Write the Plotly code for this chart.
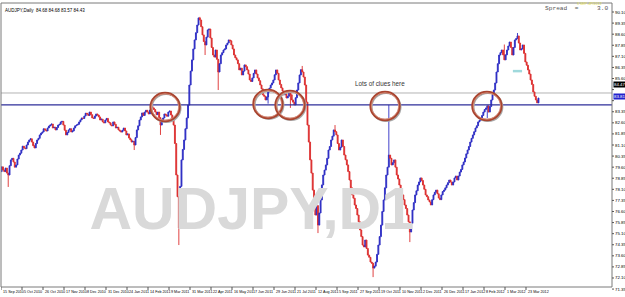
import plotly.graph_objects as go

# ---------------- data (daily closes) ----------------
closes = [
    79.62, 79.41, 79.30, 79.54, 79.20, 79.07, 79.70, 80.09, 80.20, 79.95, 79.60, 79.75, 80.15, 80.42, 80.55, 80.76,
    81.02, 80.90, 80.85, 81.10, 81.30, 81.44, 81.52, 81.30, 81.05, 80.90, 81.20, 81.44, 81.55, 81.78, 81.90, 81.98,
    82.20, 82.12, 82.05, 82.25, 82.38, 82.45, 82.52, 82.25, 82.30, 82.12, 82.28, 82.45, 82.50, 82.66, 82.70, 82.45,
    82.10, 81.78, 81.95, 82.12, 82.20, 81.98, 82.05, 82.25, 82.40, 82.45, 82.50, 82.66, 82.80, 82.93, 82.90, 83.06,
    83.25, 83.20, 83.10, 83.33, 83.15, 82.93, 82.90, 83.06, 83.20, 83.13, 83.00, 82.79, 82.85, 82.66, 82.60, 82.79,
    82.90, 82.66, 82.60, 82.45, 82.40, 82.66, 82.50, 82.25, 82.30, 82.12, 82.05, 81.98, 82.10, 82.25, 82.05, 81.78,
    81.85, 81.57, 81.45, 81.30, 81.35, 81.10, 81.60, 82.12, 82.40, 82.79, 83.00, 83.27, 83.10, 83.33, 83.45, 83.33,
    83.20, 83.47, 83.70, 83.61, 83.50, 83.33, 83.15, 83.33, 82.95, 82.45, 82.70, 82.93, 83.20, 83.13, 83.05, 83.33,
    83.40, 83.13, 82.90, 82.45, 81.20, 79.07, 77.60, 75.48, 78.30, 80.09, 80.80, 81.44, 82.20, 82.93, 83.80, 85.16,
    86.10, 86.86, 87.60, 88.21, 88.70, 89.22, 89.70, 89.56, 89.10, 88.55, 88.10, 87.87, 88.40, 88.89, 88.95, 88.34,
    87.70, 87.19, 87.05, 87.53, 86.90, 86.04, 86.60, 87.19, 87.35, 87.53, 87.60, 87.87, 88.00, 88.21, 88.15, 87.87,
    87.60, 87.19, 87.00, 86.86, 86.60, 86.18, 86.30, 85.84, 86.10, 86.52, 86.40, 86.18, 85.90, 85.50, 85.40, 85.64,
    85.95, 86.18, 85.90, 85.64, 85.45, 85.16, 84.90, 84.49, 84.40, 84.15, 84.35, 84.69, 84.95, 85.16, 85.30, 85.50,
    85.85, 86.18, 85.95, 85.50, 85.20, 84.96, 84.75, 84.49, 84.55, 84.28, 84.40, 84.69, 84.50, 84.15, 84.00, 83.81,
    84.30, 84.82, 85.30, 85.84, 86.20, 86.04, 85.70, 85.16, 84.00, 82.45, 81.30, 80.09, 79.20, 78.05, 77.30, 76.36,
    77.00, 75.68, 76.50, 77.38, 78.40, 79.07, 79.40, 79.75, 80.20, 80.76, 81.00, 81.44, 81.70, 82.12, 82.00, 81.78,
    81.20, 80.76, 80.95, 81.44, 81.00, 80.42, 80.10, 79.75, 79.30, 78.73, 78.20, 77.72, 77.50, 77.04, 76.80, 76.36,
    75.90, 75.35, 74.90, 74.33, 74.20, 74.67, 74.10, 73.65, 73.50, 73.18, 73.10, 72.77, 72.90, 73.18, 73.70, 74.33,
    74.90, 75.68, 76.60, 77.38, 78.20, 79.07, 79.60, 80.42, 80.20, 79.75, 79.90, 80.09, 79.60, 79.07, 78.80, 78.39,
    78.00, 77.72, 77.40, 77.04, 76.80, 76.36, 75.90, 75.21, 75.80, 76.70, 77.20, 77.72, 78.00, 78.39, 78.60, 78.87,
    78.70, 78.39, 78.10, 77.72, 77.60, 77.38, 77.25, 77.04, 77.40, 77.72, 77.90, 78.05, 77.80, 77.51, 77.40, 77.72,
    77.95, 78.05, 78.20, 78.39, 78.55, 78.73, 78.60, 78.39, 78.60, 78.87, 79.00, 78.73, 79.00, 79.27, 79.45, 79.75,
    79.95, 80.22, 80.50, 80.76, 81.00, 81.30, 81.55, 81.78, 82.00, 82.25, 82.40, 82.66, 82.75, 82.93, 83.10, 83.33,
    83.50, 83.61, 83.75, 83.33, 83.70, 84.15, 84.50, 84.82, 85.30, 86.04, 86.60, 87.19, 87.35, 87.53, 87.20, 86.86,
    87.20, 87.53, 87.80, 88.07, 87.70, 87.19, 87.70, 88.21, 88.30, 88.48, 88.00, 87.53, 87.60, 87.87, 87.30, 86.72,
    86.50, 86.18, 85.90, 85.50, 85.20, 84.69, 84.40, 84.15, 83.95, 84.28,
]
first_open = 79.30
spike_low_idx = [5, 101, 121, 135, 155, 165, 203, 220, 241, 283, 311, 370]
spike_low_val = [78.26, 80.76, 81.78, 74.33, 87.19, 84.82, 83.90, 83.61, 75.14, 72.16, 74.53, 82.93]
spike_high_idx = [151, 229, 254, 295, 383, 393]
spike_high_val = [89.77, 86.45, 82.45, 83.81, 87.90, 88.68]

date_labels = ["15 Sep 2010", "5 Oct 2010", "26 Oct 2010", "17 Nov 2010", "8 Dec 2010",
               "31 Dec 2010", "24 Jan 2011", "14 Feb 2011", "9 Mar 2011", "31 Mar 2011",
               "22 Apr 2011", "16 May 2011", "7 Jun 2011", "29 Jun 2011", "21 Jul 2011",
               "12 Aug 2011", "5 Sep 2011", "27 Sep 2011", "19 Oct 2011", "10 Nov 2011",
               "2 Dec 2011", "26 Dec 2011", "17 Jan 2012", "8 Feb 2012", "1 Mar 2012",
               "23 Mar 2012"]
price_ticks = ["71.35", "72.10", "72.85", "73.60", "74.35", "75.10", "75.85", "76.60",
               "77.35", "78.10", "78.85", "79.60", "80.35", "81.10", "81.85", "82.60",
               "83.35", "84.10", "84.85", "85.60", "86.35", "87.10", "87.85", "88.60",
               "89.35", "90.10"]
ask_level = 84.62
bid_level = 83.81
ask_label = "84.47"
bid_label = "83.81"
title_text = "AUDJPY,Daily  84.68 84.68 83.57 84.43"
timer_text = "3 SEP-4P/2012"

# ---------------- derived OHLC ----------------
opens = [first_open] + closes[:-1]
highs = [max(o, c) for o, c in zip(opens, closes)]
lows = [min(o, c) for o, c in zip(opens, closes)]
for i, v in zip(spike_low_idx, spike_low_val):
    lows[i] = min(lows[i], v)
for i, v in zip(spike_high_idx, spike_high_val):
    highs[i] = max(highs[i], v)
xs = list(range(len(closes)))

# ---------------- geometry ----------------
W, H = 625, 297
ML, MR, MT, MB = 1, 13, 3, 10
BAR_PX = 1.3125
X0 = -0.5
X1 = X0 + (W - ML - MR) / BAR_PX
Y0, Y1 = 71.49, 90.71
LABEL_STEP = 16
pw, ph = W - ML - MR, H - MT - MB

def ypaper(p):
    return (p - Y0) / (Y1 - Y0)

fig = go.Figure()

# watermark behind candles
fig.add_trace(go.Scatter(
    x=[190.5], y=[76.4], mode="text", text=["AUDJPY,D1"],
    textfont=dict(family="Liberation Sans, Arial, sans-serif",
                  size=59, color="#d9d9d9", weight="bold"),
    hoverinfo="skip", showlegend=False))

fig.add_trace(go.Candlestick(
    x=xs, open=opens, high=highs, low=lows, close=closes,
    increasing=dict(line=dict(color="#2c2cc4", width=0.9), fillcolor="#2c2cc4"),
    decreasing=dict(line=dict(color="#dc2e2e", width=0.9), fillcolor="#dc2e2e"),
    whiskerwidth=0, showlegend=False, hoverinfo="skip"))

shapes = []
shapes.append(dict(type="line", xref="paper", x0=0, x1=1, yref="y", y0=ask_level, y1=ask_level,
                   line=dict(color="#b4b4b4", width=1), layer="below"))
shapes.append(dict(type="line", xref="paper", x0=0, x1=1, yref="y", y0=bid_level, y1=bid_level,
                   line=dict(color="#2e2e9a", width=1.3)))
shapes.append(dict(type="rect", xref="paper", yref="paper", x0=0, x1=1, y0=0, y1=1,
                   line=dict(color="#7a7a7a", width=1)))
# small cyan drawing mark (Mar 2012)
shapes.append(dict(type="line", xref="x", yref="y", x0=389.5, x1=396.5, y0=86.1, y1=86.1,
                   line=dict(color="#9fd9dc", width=2.5)))

# hand-drawn circles (bar index, price)
circles = [(124.5, 83.67), (202.9, 83.88), (219.7, 83.81), (292.1, 83.74), (369.7, 83.74)]
rx, ry = 11.0, 0.95
for cx, cy in circles:
    shapes.append(dict(type="circle", xref="x", yref="y", x0=cx - rx + 0.8, x1=cx + rx + 0.8,
                       y0=cy - ry - 0.07, y1=cy + ry - 0.07, line=dict(color="#a8a8a8", width=2)))
    shapes.append(dict(type="circle", xref="x", yref="y", x0=cx - rx, x1=cx + rx,
                       y0=cy - ry, y1=cy + ry, line=dict(color="#a9442f", width=2.4)))
    shapes.append(dict(type="circle", xref="x", yref="y", x0=cx - rx + 0.6, x1=cx + rx - 0.6,
                       y0=cy - ry + 0.05, y1=cy + ry - 0.05, line=dict(color="#e3a08e", width=0.7)))

annotations = []
box_y = [ypaper(ask_level + 0.55), ypaper(bid_level + 0.55)]
for t in price_ticks:
    yp = ypaper(float(t))
    shapes.append(dict(type="line", xref="paper", yref="paper", x0=1, x1=1 + 2 / pw, y0=yp, y1=yp,
                       line=dict(color="#555", width=1)))
    if min(abs(yp - b) for b in box_y) * ph < 5:
        continue
    annotations.append(dict(xref="paper", yref="paper", x=1 + 1 / pw, y=yp, xanchor="left",
                            yanchor="middle", text=t, showarrow=False,
                            font=dict(family="Liberation Sans, Arial", size=4.4, color="#000")))

annotations.append(dict(xref="paper", yref="paper", x=1 + 1 / pw, y=box_y[0], xanchor="left",
                        yanchor="middle", text=ask_label, showarrow=False, bgcolor="#000000",
                        font=dict(family="Liberation Sans, Arial", size=4.4, color="#fff"),
                        borderpad=0))
annotations.append(dict(xref="paper", yref="paper", x=1 + 1 / pw, y=box_y[1], xanchor="left",
                        yanchor="middle", text=bid_label, showarrow=False, bgcolor="#2222cc",
                        font=dict(family="Liberation Sans, Arial", size=4.4, color="#fff"),
                        borderpad=0))

for k, lab in enumerate(date_labels):
    xb = k * LABEL_STEP - 0.5
    annotations.append(dict(xref="x", yref="paper", x=xb, y=0, xanchor="left", yanchor="top",
                            yshift=-1, text=lab, showarrow=False,
                            font=dict(family="Liberation Sans, Arial", size=3.7, color="#000")))
    shapes.append(dict(type="line", xref="x", yref="paper", x0=xb, x1=xb, y0=0, y1=-3 / ph,
                       line=dict(color="#555", width=1)))

annotations.append(dict(xref="paper", yref="paper", x=0.004, y=0.99, xanchor="left", yanchor="top",
                        text=title_text, showarrow=False,
                        font=dict(family="Liberation Sans, Arial", size=4.5, color="#000")))
annotations.append(dict(xref="x", yref="y", x=288.3, y=85.23, text="Lots of clues here",
                        showarrow=False, font=dict(family="Liberation Sans, Arial", size=6.3, color="#333")))
annotations.append(dict(xref="paper", yref="paper", x=(543 - ML) / pw, y=(287 - 9) / ph,
                        xanchor="left", yanchor="middle", text="Spread  =     3.0", showarrow=False,
                        font=dict(family="Liberation Mono, Courier New, monospace", size=6.2,
                                  color="#555")))
annotations.append(dict(xref="paper", yref="paper", x=(575 - ML) / pw, y=(287 - 4) / ph,
                        xanchor="left", yanchor="middle", text=timer_text, showarrow=False,
                        font=dict(family="Liberation Sans, Arial", size=3.6, color="#e6e24a")))

fig.update_layout(
    width=W, height=H,
    margin=dict(l=ML, r=MR, t=MT, b=MB),
    paper_bgcolor="white", plot_bgcolor="white",
    boxgap=0.0,
    xaxis=dict(range=[X0, X1], showgrid=False, zeroline=False, showticklabels=False,
               rangeslider=dict(visible=False), fixedrange=True),
    yaxis=dict(range=[Y0, Y1], showgrid=False, zeroline=False, showticklabels=False,
               fixedrange=True),
    shapes=shapes, annotations=annotations, showlegend=False,
)

fig.write_html("out.html")
